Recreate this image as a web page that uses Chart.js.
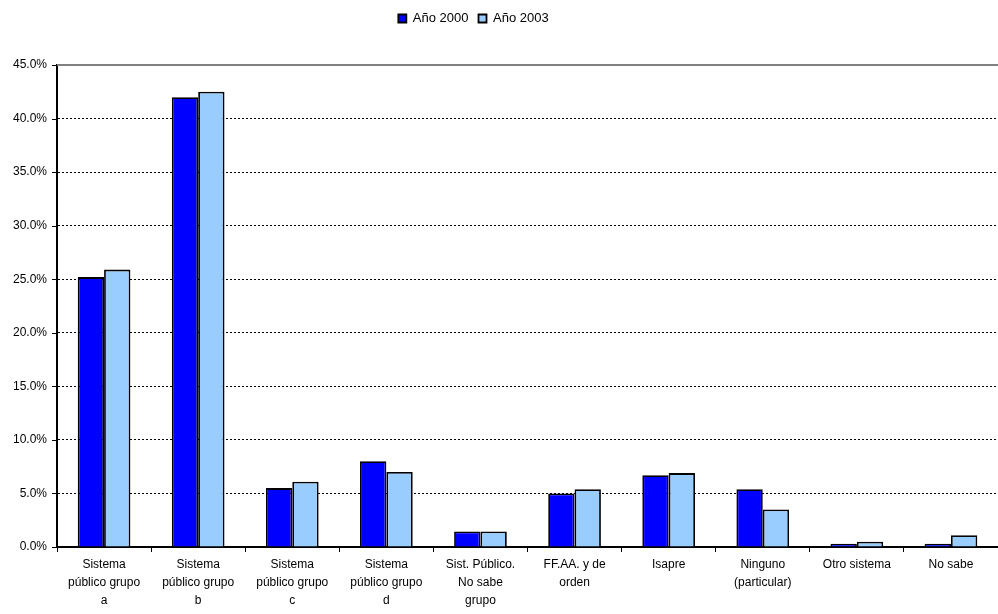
<!DOCTYPE html>
<html>
<head>
<meta charset="utf-8">
<script src="https://cdn.jsdelivr.net/npm/chart.js@4/dist/chart.umd.min.js"></script>
<style>
  html, body { margin: 0; padding: 0; background: #fff; }
  #wrap { width: 998px; height: 614px; }
</style>
</head>
<body>
<div id="wrap"><canvas id="c"></canvas></div>
<script>
const categories = [
  ["Sistema", "público grupo", "a"],
  ["Sistema", "público grupo", "b"],
  ["Sistema", "público grupo", "c"],
  ["Sistema", "público grupo", "d"],
  ["Sist. Público.", "No sabe", "grupo"],
  ["FF.AA. y de", "orden"],
  "Isapre",
  ["Ninguno", "(particular)"],
  "Otro sistema",
  "No sabe",
];
const year2000 = [25.2, 42.0, 5.5, 8.0, 1.45, 5.0, 6.7, 5.4, 0.3, 0.3];
const year2003 = [25.9, 42.5, 6.1, 7.0, 1.45, 5.4, 6.9, 3.5, 0.5, 1.1];

const font = { family: "Liberation Sans, Arial, sans-serif", size: 12 };

// room under the legend, and legend nudged a bit left like the original
const legendSpace = {
  id: "legendSpace",
  beforeInit(chart) {
    const fit = chart.legend.fit;
    chart.legend.fit = function () {
      fit.call(this);
      this.height += 30;
    };
  },
  afterLayout(chart) {
    chart.legend.left -= 27;
    chart.legend.right -= 27;
  },
};

// solid grey line on top of the plot, plus the little outward tick marks on the y axis
const frame = {
  id: "frame",
  afterDraw(chart) {
    const { ctx, chartArea, scales } = chart;
    ctx.save();
    ctx.strokeStyle = "#808080";
    ctx.lineWidth = 2;
    ctx.beginPath();
    ctx.moveTo(chartArea.left, chartArea.top);
    ctx.lineTo(chartArea.right, chartArea.top);
    ctx.stroke();
    ctx.strokeStyle = "#000";
    ctx.lineWidth = 1;
    scales.y.ticks.forEach((t) => {
      const y = Math.round(scales.y.getPixelForValue(t.value)) + 0.5;
      ctx.beginPath();
      ctx.moveTo(chartArea.left - 5, y);
      ctx.lineTo(chartArea.left, y);
      ctx.stroke();
    });
    ctx.restore();
  },
};

new Chart(document.getElementById("c"), {
  type: "bar",
  data: {
    labels: categories,
    datasets: [
      { label: "Año 2000", data: year2000, backgroundColor: "#0000ff", borderColor: "#000", borderWidth: 1.8 },
      { label: "Año 2003", data: year2003, backgroundColor: "#99ccff", borderColor: "#000", borderWidth: 1.8 },
    ],
  },
  options: {
    responsive: true,
    maintainAspectRatio: false,
    animation: false,
    layout: { padding: { top: 2, right: 0, left: 3, bottom: 0 } },
    datasets: { bar: { categoryPercentage: 0.56, barPercentage: 1 } },
    plugins: {
      legend: {
        labels: { color: "#000", font: { ...font, size: 13 }, boxWidth: 8, boxHeight: 8, padding: 10 },
      },
      tooltip: { enabled: false },
    },
    scales: {
      x: {
        ticks: { color: "#000", font: { ...font, lineHeight: 1.5 }, maxRotation: 0, autoSkip: false, padding: 4 },
        grid: { drawOnChartArea: false, color: "#000", tickLength: 5, offset: true },
        border: { color: "#000", width: 2 },
      },
      y: {
        min: 0,
        max: 45,
        ticks: { stepSize: 5, color: "#000", font, padding: 10, callback: (v) => v.toFixed(1) + "%" },
        grid: { color: "#000", tickLength: 0, lineWidth: 1 },
        border: { color: "#000", width: 2, dash: [2, 2] },
      },
    },
  },
  plugins: [legendSpace, frame],
});
</script>
</body>
</html>
